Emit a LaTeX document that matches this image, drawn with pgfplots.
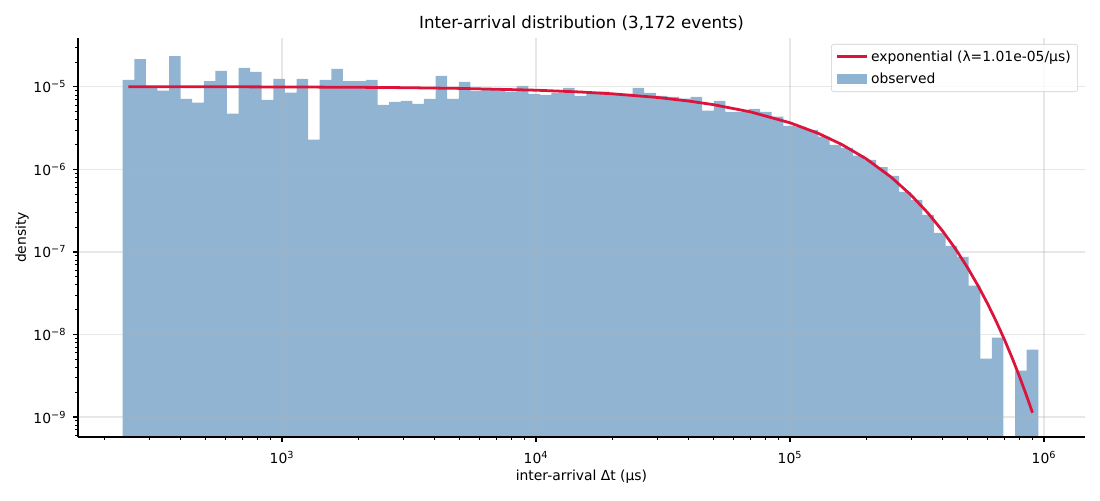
\documentclass[border=0pt]{standalone}
\usepackage{fontspec}
\setmainfont{DejaVu Sans}
\usepackage{pgfplots}
\pgfplotsset{compat=1.18}
\definecolor{steel}{RGB}{70,130,180}
\definecolor{crim}{RGB}{220,20,60}
\definecolor{gridc}{RGB}{176,176,176}
\pgfplotsset{
  myline legend/.style={legend image code/.code={\draw[sharp corners,##1] (0pt,0pt) -- (21.6pt,0pt);}},
  mybar legend/.style={legend image code/.code={\fill[sharp corners,##1] (0pt,-3.4pt) rectangle (21.6pt,3.4pt);}},
}
\begin{document}
\begin{tikzpicture}
\begin{axis}[
  set layers, clip mode=individual,
  scale only axis, width=725pt, height=287.3pt,
  xmode=log, ymode=log,
  xmin=157.4, xmax=1.45e6, ymin=5.73e-10, ymax=3.92e-5,
  log origin y=infty,
  axis x line*=bottom, axis y line*=left,
  axis line style={line width=0.8pt, -},
  tick align=outside,
  major tick length=3.5pt, minor tick length=2pt,
  every tick/.style={black, line width=0.8pt},
  minor tick style={black, line width=0.6pt},
  xtick={1000,10000,100000,1000000},
  xticklabels={10\textsuperscript{3},10\textsuperscript{4},10\textsuperscript{5},10\textsuperscript{6}},
  minor xtick={200,300,400,500,600,700,800,900,2000,3000,4000,5000,6000,7000,8000,9000,20000,30000,40000,50000,60000,70000,80000,90000,200000,300000,400000,500000,600000,700000,800000,900000},
  ytick={1e-9,1e-8,1e-7,1e-6,1e-5},
  yticklabels={10\textsuperscript{−9},10\textsuperscript{−8},10\textsuperscript{−7},10\textsuperscript{−6},10\textsuperscript{−5}},
  minor ytick={6e-10,7e-10,8e-10,9e-10,2e-9,3e-9,4e-9,5e-9,6e-9,7e-9,8e-9,9e-9,2e-8,3e-8,4e-8,5e-8,6e-8,7e-8,8e-8,9e-8,2e-7,3e-7,4e-7,5e-7,6e-7,7e-7,8e-7,9e-7,2e-6,3e-6,4e-6,5e-6,6e-6,7e-6,8e-6,9e-6,2e-5,3e-5},
  grid=major,
  major grid style={gridc, draw opacity=0.3, line width=0.8pt},
  tick label style={font=\fontsize{10}{12}\selectfont},
  xticklabel style={yshift=-3.5pt},
  yticklabel style={xshift=-1.5pt},
  title={Inter-arrival distribution (3,172 events)},
  title style={font=\fontsize{12}{14}\selectfont, at={(axis description cs:0.5,1.0376)}, anchor=center, yshift=-6pt},
  xlabel={inter-arrival Δt (μs)},
  xlabel style={font=\fontsize{10}{12}\selectfont, at={(axis description cs:0.5,-0.1003)}, anchor=center},
  ylabel={density},
  ylabel style={font=\fontsize{10}{12}\selectfont, at={(axis description cs:-0.0556,0.5)}, anchor=center},
  legend style={at={(rel axis cs:0.993,0.985)}, anchor=north east,
    draw={rgb,255:red,204;green,204;blue,204}, rounded corners=2pt,
    fill=white, fill opacity=0.8, text opacity=1,
    font=\fontsize{10}{12}\selectfont, inner xsep=3pt, inner ysep=2.5pt,
    row sep=3pt},
  legend cell align=left,
]
\addplot[ybar interval, fill=steel, fill opacity=0.6, draw=none, forget plot, on layer=axis background] coordinates {
(236.0,1.215e-5) (262.1,2.18e-5) (291.1,1.03e-5) (323.4,9.02e-6) (359.2,2.37e-5)
(399.0,7.16e-6) (443.2,6.46e-6) (492.3,1.18e-5) (546.8,1.56e-5) (607.4,4.75e-6)
(674.7,1.70e-5) (749.4,1.52e-5) (832.5,6.96e-6) (924.7,1.25e-5) (1027.1,8.53e-6)
(1140.9,1.25e-5) (1267.3,2.30e-6) (1407.7,1.215e-5) (1563.6,1.65e-5) (1736.9,1.18e-5)
(1929.3,1.18e-5) (2143.0,1.215e-5) (2380.4,6.05e-6) (2644.2,6.58e-6) (2937.1,6.77e-6)
(3262.5,6.22e-6) (3623.9,7.16e-6) (4025.4,1.36e-5) (4471.3,7.16e-6) (4966.7,1.15e-5)
(5517,8.95e-6) (6128,9.33e-6) (6807,9.33e-6) (7561,8.70e-6) (8399,1.03e-5)
(9329,8.23e-6) (10362,8.00e-6) (11511,8.46e-6) (12786,9.72e-6) (14202,7.78e-6)
(15776,8.70e-6) (17524,8.77e-6) (19465,8.39e-6) (21622,8.23e-6) (24017,9.72e-6)
(26678,8.46e-6) (29633,7.78e-6) (32916,7.57e-6) (36563,7.22e-6) (40613,7.57e-6)
(45112,5.16e-6) (50110,6.77e-6) (55661,4.98e-6) (61827,4.98e-6) (68676,5.42e-6)
(76284,4.98e-6) (84735,4.36e-6) (94122,3.37e-6) (104550,3.28e-6) (116130,3.01e-6)
(129000,2.50e-6) (143290,1.99e-6) (159160,1.83e-6) (176800,1.47e-6) (196380,1.31e-6)
(218140,1.07e-6) (242300,8.37e-7) (269150,5.36e-7) (298960,4.29e-7) (332080,2.82e-7)
(368870,1.71e-7) (409730,1.19e-7) (455120,8.75e-8) (505540,3.90e-8) (561550,5.09e-9)
(623750,9.14e-9) (692850,5.73e-10) (769610,3.65e-9) (854870,6.55e-9) (949570,6.55e-9)
};
\addplot[crim, line width=2pt, myline legend] coordinates {
(248.7,1.00747e-5) (500,1.00491e-5) (1000,9.9985e-6) (2000,9.898e-6) (3000,9.7985e-6)
(5000,9.6026e-6) (10000,9.1297e-6) (15000,8.680e-6) (20000,8.2526e-6) (30000,7.4599e-6)
(40000,6.743e-6) (50000,6.0955e-6) (70000,4.9807e-6) (100000,3.6786e-6) (130000,2.7170e-6)
(160000,2.0068e-6) (200000,1.3399e-6) (250000,8.086e-7) (300000,4.880e-7) (350000,2.945e-7)
(400000,1.7773e-7) (450000,1.0725e-7) (500000,6.473e-8) (550000,3.907e-8) (600000,2.358e-8)
(650000,1.423e-8) (700000,8.588e-9) (750000,5.183e-9) (800000,3.128e-9) (850000,1.888e-9)
(880000,1.394e-9) (901000,1.128e-9)
};
\addlegendentry{exponential (λ=1.01e-05/μs)}
\addlegendimage{fill=steel, fill opacity=0.6, draw=none, mybar legend}
\addlegendentry{observed}
\end{axis}
\pgfresetboundingbox
\path (current axis.south west) ++(-56.16pt,-45.36pt) rectangle ++(792pt,360pt);
\end{tikzpicture}
\end{document}
